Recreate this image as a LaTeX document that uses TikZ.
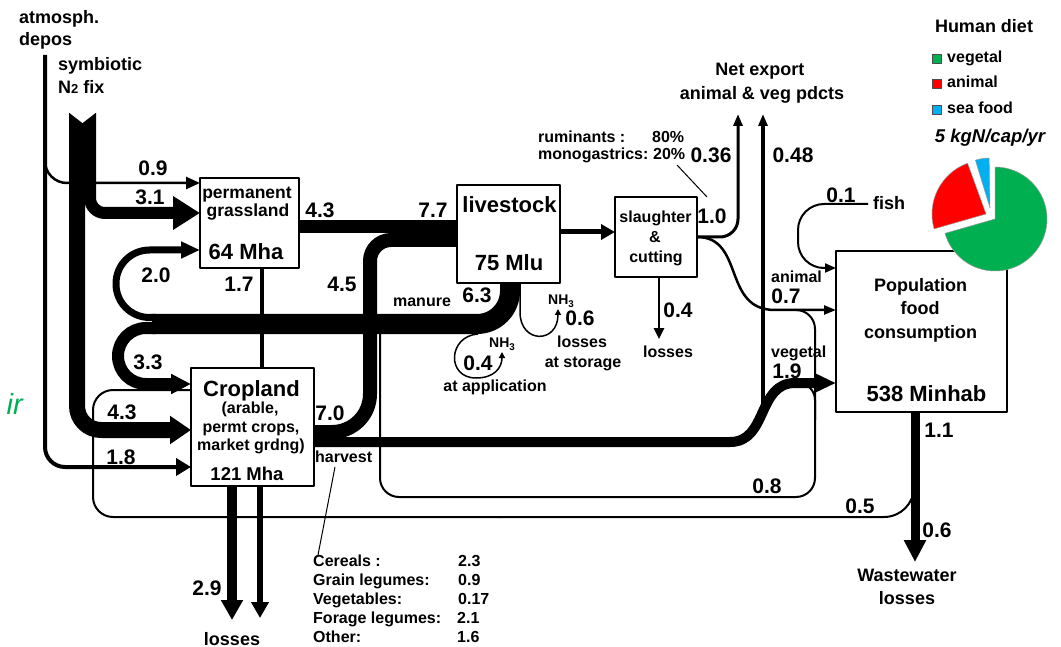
\documentclass[tikz,border=0pt]{standalone}
\usepackage{fontspec}
\setmainfont{Liberation Sans}
\usetikzlibrary{arrows.meta}
\definecolor{pgreen}{HTML}{00B050}
\definecolor{pred}{HTML}{FF0000}
\definecolor{pblue}{HTML}{00B0F0}
\tikzset{
  num/.style={font=\fontsize{21}{24}\selectfont\bfseries,inner sep=0pt},
  lbl/.style={font=\fontsize{16}{19}\selectfont\bfseries,inner sep=0pt},
  mid/.style={font=\fontsize{18}{22}\selectfont\bfseries,inner sep=0pt},
  big/.style={font=\fontsize{22}{26}\selectfont\bfseries,inner sep=0pt},
  geom/.style={inner sep=0pt,outer sep=0pt},
  boxline/.style={draw=black,line width=2.2pt,fill=white},
  thin/.style={line width=2pt},
  hair/.style={line width=1pt},
  legsq/.style={draw=black!70,line width=0.6pt,minimum size=9pt,inner sep=0pt},
  slice/.style={draw=black!40,line width=0.5pt},
}
\begin{document}
\begin{tikzpicture}[x=1pt,y=-1pt,line join=round,line cap=butt]
\useasboundingbox (0,0) rectangle (1061,647);
\clip (0,0) rectangle (1061,647);

% ---- box geometry (drawn later) ----
\path node[geom,minimum width=99pt,minimum height=90pt] (grass) at (249.5,223) {};
\path node[geom,minimum width=123pt,minimum height=118pt] (crop) at (252.5,427) {};
\path node[geom,minimum width=103pt,minimum height=98pt] (live) at (508.5,234) {};
\path node[geom,minimum width=82pt,minimum height=80pt] (slau) at (656,237) {};
\path node[geom,minimum width=171pt,minimum height=161pt] (pop) at (921.5,331.5) {};

% ---- thin recycling lines ----
\draw[thin,rounded corners=30pt] (914,460) -- (914,517) -- (500,517);
\draw[thin,rounded corners=20pt] (501,517) -- (93,517) -- (93,390) -- (crop.west |- 0,390);
\draw[thin,rounded corners=19pt] (795,310) -- (815,310) -- (815,497) -- (380,497) -- (380,333);
\draw[thin,rounded corners=17pt] (797,383) -- (815,383) -- (815,420);

% ---- atmospheric deposition ----
\draw[line width=2.5pt,rounded corners=22pt,-{Triangle[length=14pt,width=12pt]}] (45,150) -- (45,183) -- (grass.west |- 0,183);
\draw[line width=4pt,rounded corners=20pt,-{Triangle[length=15pt,width=17pt]}] (45,55) -- (45,467) -- (crop.west |- 0,467);

% ---- symbiotic fixation ----
\draw[line width=12pt,rounded corners=15pt,-{Triangle[length=27pt,width=32pt]}] (90,113) -- (90,213) -- (grass.west |- 0,213);
\draw[line width=16pt,rounded corners=24pt,-{Triangle[length=21pt,width=27pt]}] (77,113) -- (77,430) -- (crop.west |- 0,430);
\fill[white] (67,111) -- (98,111) -- (82.5,123) -- cycle;

% ---- grassland / cropland to livestock ----
\draw[line width=13pt] (grass.east |- 0,226.5) -- (live.west |- 0,226.5);
\draw[line width=14pt,rounded corners=38pt] (crop.east |- 0,432) -- (370,432) -- (370,330);
\draw[line width=14pt,rounded corners=21pt] (370,331) -- (370,240) -- (live.west |- 0,240);

% ---- exports ----
\draw[line width=3.5pt,-{Triangle[length=12pt,width=9pt]}] (763,420) -- (763,114);
\draw[line width=3pt,rounded corners=18pt,-{Triangle[length=12pt,width=9pt]}] (slau.east |- 0,237) -- (738,237) -- (738,114);

% ---- vegetal harvest to population ----
\draw[line width=10pt,-{Triangle[length=20pt,width=17pt]}] (crop.east |- 0,442) -- (730,442) .. controls (768,442) and (757,383) .. (795,383) -- (pop.west |- 0,383);

% ---- animal products ----
\draw[line width=2.5pt,-{Triangle[length=12pt,width=9pt]}] (slau.east |- 0,237) .. controls (745,237) and (722,310) .. (775,310) -- (pop.west |- 0,310);
\draw[line width=5pt,-{Triangle[length=14pt,width=15pt]}] (live.east |- 0,232) -- (slau.west |- 0,232);
\draw[line width=2.5pt,-{Triangle[length=11pt,width=10pt]}] (slau.south |- 0,277) ++(3,0) -- (659,339);

% ---- fish ----
\draw[thin,rounded corners=26pt,-{Triangle[length=11pt,width=9pt]}] (868,204) -- (798,204) -- (798,268) -- (pop.west |- 0,268);

% ---- manure ----
\draw[line width=20pt,rounded corners=33pt] (510,282) -- (510,324) -- (152,324);
\draw[line width=7pt,rounded corners=33.5pt,-{Triangle[length=19pt,width=16pt]}] (156,317.5) -- (116,317.5) -- (116,250) -- (grass.west |- 0,250);
\draw[line width=12pt,rounded corners=28pt,-{Triangle[length=20pt,width=19pt]}] (156,328) -- (118,328) -- (118,384) -- (crop.west |- 0,384);

% NH3 loops
\draw[line width=1.5pt,-{Triangle[length=6pt,width=6pt]}] (520,284) -- (520,312) .. controls (520,344) and (558,344) .. (558,309);
\draw[line width=1.5pt,-{Triangle[length=6pt,width=6pt]}] (478,334) .. controls (448,336) and (446,378) .. (476,378) .. controls (494,378) and (502,368) .. (502,352);

% ---- grassland-cropland ----
\draw[line width=4pt] (grass.south -| 262,0) -- (crop.north -| 262,0);

% ---- crop losses ----
\draw[line width=10pt,-{Triangle[length=20pt,width=21pt]}] (crop.south -| 232,0) -- (232,620);
\draw[line width=6pt,-{Triangle[length=16pt,width=17pt]}] (crop.south -| 260,0) -- (260,618);

% ---- wastewater ----
\draw[line width=9pt,-{Triangle[length=22pt,width=21pt]}] (pop.south -| 915,0) -- (915,562);

% ---- pointers ----
\draw[hair] (677,165) -- (707,197);
\draw[hair] (335,467) -- (318,555);

% ---- boxes ----
\draw[boxline] (grass.north west) rectangle (grass.south east);
\draw[boxline] (crop.north west) rectangle (crop.south east);
\draw[boxline] (live.north west) rectangle (live.south east);
\draw[boxline] (slau.north west) rectangle (slau.south east);
\draw[boxline] (pop.north west) rectangle (pop.south east);

% ---- box texts ----
\node[font=\fontsize{17.5}{20}\selectfont\bfseries,inner sep=0pt,anchor=base] (g1) at (247,199) {permanent};
\node[font=\fontsize{17.5}{20}\selectfont\bfseries,inner sep=0pt,anchor=base] (g2) at (248,217) {grassland};
\node[big,anchor=base] (g3) at (246,260) {64 Mha};
\node[big,anchor=base] (c1) at (251.5,396) {Cropland};
\node[lbl,anchor=base] (c2) at (250,413) {(arable,};
\node[lbl,anchor=base] (c3) at (251,432) {permt crops,};
\node[lbl,anchor=base] (c4) at (251,450) {market grdng)};
\node[font=\fontsize{18.5}{22}\selectfont\bfseries,inner sep=0pt,anchor=base] (c5) at (247,480) {121 Mha};
\node[big,anchor=base] (l1) at (509.5,213) {livestock};
\node[big,anchor=base] (l2) at (509,271) {75 Mlu};
\node[lbl,anchor=base] (s1) at (655.5,223) {slaughter};
\node[lbl,anchor=base] (s2) at (655,243) {\&};
\node[lbl,anchor=base] (s3) at (656,263) {cutting};
\node[mid,anchor=base] (p1) at (920.5,292) {Population};
\node[mid,anchor=base] (p2) at (920,315) {food};
\node[mid,anchor=base] (p3) at (920.5,338) {consumption};
\node[big,anchor=base] (p4) at (926.5,401) {538 Minhab};

% ---- other texts ----
\node[mid,anchor=base west] (atm1) at (19,24) {atmosph.};
\node[mid,anchor=base west] (atm2) at (19,46) {depos};
\node[mid,anchor=base west] (sym1) at (58,71) {symbiotic};
\node[mid,anchor=base west] (sym2) at (58,94) {N{\fontsize{13}{15}\selectfont 2} fix};
\node[font=\fontsize{29}{32}\selectfont\itshape,text=pgreen,inner sep=0pt,anchor=base east] (airtxt) at (23,414) {ir};
\node[mid,anchor=base] (ne1) at (760,76) {Net export};
\node[mid,anchor=base] (ne2) at (762,100) {animal \& veg pdcts};
\node[lbl,anchor=base west] (ru1) at (538,143) {ruminants :};
\node[lbl,anchor=base west] (ru2) at (652,143) {80\%};
\node[lbl,anchor=base west] (mo1) at (538,160) {monogastrics:};
\node[lbl,anchor=base west] (mo2) at (653,160) {20\%};
\node[lbl,anchor=base] (man) at (422,307) {manure};
\node[font=\fontsize{14}{16}\selectfont\bfseries,inner sep=0pt,anchor=base west] (nh3a) at (548,305) {NH\textsubscript{3}};
\node[font=\fontsize{14}{16}\selectfont\bfseries,inner sep=0pt,anchor=base west] (nh3b) at (489,348) {NH\textsubscript{3}};
\node[lbl,anchor=base] (ls1) at (582,348) {losses};
\node[lbl,anchor=base] (ls2) at (583,367) {at storage};
\node[lbl,anchor=base] (la1) at (495,391) {at application};
\node[lbl,anchor=base] (sl) at (668,357) {losses};
\node[lbl,anchor=base west] (harv) at (315,462) {harvest};
\node[mid,anchor=base] (closs) at (232,645) {losses};
\node[mid,anchor=base west] (fish) at (873,210) {fish};
\node[lbl,anchor=base west] (anim) at (771,283) {animal};
\node[lbl,anchor=base west] (veg) at (771,357) {vegetal};
\node[mid,anchor=base] (ww1) at (907,581) {Wastewater};
\node[mid,anchor=base] (ww2) at (907,604) {losses};

% harvest table
\node[lbl,anchor=base west] (t1) at (313,566) {Cereals :};
\node[lbl,anchor=base west] (t2) at (313,585) {Grain legumes:};
\node[lbl,anchor=base west] (t3) at (313,604) {Vegetables:};
\node[lbl,anchor=base west] (t4) at (313,623) {Forage legumes:};
\node[lbl,anchor=base west] (t5) at (313,642) {Other:};
\node[lbl,anchor=base west] (v1) at (458,566) {2.3};
\node[lbl,anchor=base west] (v2) at (458,585) {0.9};
\node[lbl,anchor=base west] (v3) at (458,604) {0.17};
\node[lbl,anchor=base west] (v4) at (457,623) {2.1};
\node[lbl,anchor=base west] (v5) at (457,642) {1.6};

% ---- flow values ----
\node[num] (n09) at (153,168) {0.9};
\node[num] (n31) at (150,197) {3.1};
\node[num] (n20) at (156,275) {2.0};
\node[num] (n17) at (239,284) {1.7};
\node[num] (n33) at (148,362) {3.3};
\node[num] (n43a) at (122,412) {4.3};
\node[num] (n18) at (121,457) {1.8};
\node[num] (n43b) at (320,210) {4.3};
\node[num] (n77) at (433,210) {7.7};
\node[num] (n45) at (342,284) {4.5};
\node[num] (n63) at (477,295) {6.3};
\node[num] (n06s) at (580,318) {0.6};
\node[num] (n04a) at (478,363) {0.4};
\node[num] (n04s) at (678,310) {0.4};
\node[num] (n70) at (330,413) {7.0};
\node[num] (n10) at (712,216) {1.0};
\node[num] (n036) at (711,155) {0.36};
\node[num] (n048) at (793,155) {0.48};
\node[num] (n01) at (841,195) {0.1};
\node[num] (n07) at (786,296) {0.7};
\node[num] (n19) at (787,371) {1.9};
\node[num] (n11) at (939,430) {1.1};
\node[num] (n08) at (767,486) {0.8};
\node[num] (n05) at (860,506) {0.5};
\node[num] (n06w) at (937,530) {0.6};
\node[num] (n29) at (207,588) {2.9};

% ---- human diet legend and pie ----
\node[mid,anchor=base] (hd) at (984,33) {Human diet};
\node[legsq,fill=pgreen] (sqg) at (937,59) {};
\node[legsq,fill=pred] (sqr) at (937,84) {};
\node[legsq,fill=pblue] (sqb) at (937,110) {};
\node[lbl,anchor=base west] (lg) at (947,63) {vegetal};
\node[lbl,anchor=base west] (lr) at (947,88) {animal};
\node[lbl,anchor=base west] (lb) at (947,114) {sea food};
\node[font=\fontsize{18.5}{22}\selectfont\bfseries\itshape,inner sep=0pt,anchor=base] (kg) at (990,143) {5 kgN/cap/yr};

\fill[pgreen,slice] (995,219) -- ++(-90:52) arc[start angle=-90,end angle=164,radius=52] -- cycle;
\fill[pred,slice] (986,214) -- ++(-196:54) arc[start angle=-196,end angle=-110,radius=54] -- cycle;
\fill[pblue,slice] (990,208) -- ++(-107:50) arc[start angle=-107,end angle=-91,radius=50] -- cycle;
\end{tikzpicture}
\end{document}
